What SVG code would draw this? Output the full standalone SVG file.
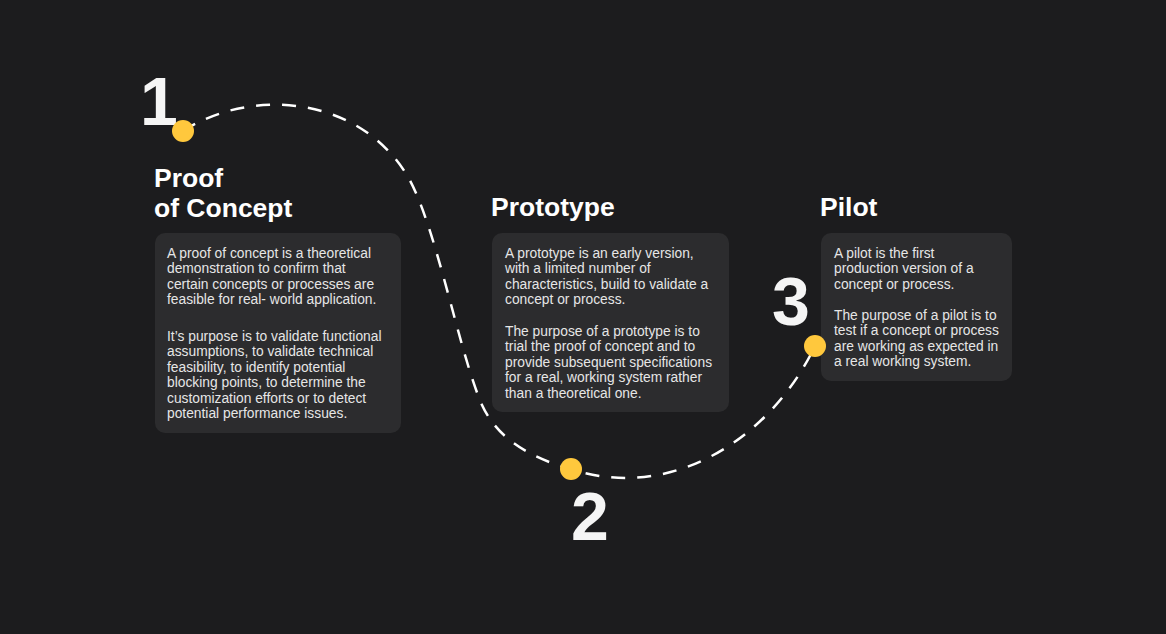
<svg xmlns="http://www.w3.org/2000/svg" width="1166" height="634" viewBox="0 0 1166 634">
<style>
.bg{fill:#1c1c1e}
.card{fill:#2c2c2e}
.title{font-family:"Liberation Sans",Arial,sans-serif;font-weight:bold;font-size:26.5px;fill:#ffffff}
.num{font-family:"Liberation Sans",Arial,sans-serif;font-weight:bold;font-size:68px;fill:#f5f5f5}
.body{font-family:"Liberation Sans",Arial,sans-serif;font-size:13.8px;fill:#e6e6e6}
.dot{fill:#ffc83d}
.path{fill:none;stroke:#ffffff;stroke-width:2.5;stroke-dasharray:14 12}
</style>
<rect class="bg" x="0" y="0" width="1166" height="634"/>
<g id="connectors">
<path class="path" d="M183,131 C250,88 355,95 405,172 C435,218 458,350 482,405 C497,438 530,458 571,469 C670,502 770,440 815,346"/>
</g>
<g id="step1">
<text class="num" x="140" y="125">1</text>
<circle class="dot" cx="183" cy="131" r="11"/>
<text class="title" x="154" y="187">Proof</text>
<text class="title" x="154" y="217">of Concept</text>
<rect class="card" x="155" y="233" width="246" height="200" rx="10"/>
<text class="body" x="167" y="257.5">A proof of concept is a theoretical</text>
<text class="body" x="167" y="273">demonstration to confirm that</text>
<text class="body" x="167" y="288.5">certain concepts or processes are</text>
<text class="body" x="167" y="304">feasible for real- world application.</text>
<text class="body" x="167" y="340.5">It’s purpose is to validate functional</text>
<text class="body" x="167" y="356">assumptions, to validate technical</text>
<text class="body" x="167" y="371.5">feasibility, to identify potential</text>
<text class="body" x="167" y="387">blocking points, to determine the</text>
<text class="body" x="167" y="402.5">customization efforts or to detect</text>
<text class="body" x="167" y="418">potential performance issues.</text>
</g>
<g id="step2">
<text class="title" x="491" y="216">Prototype</text>
<rect class="card" x="492" y="233" width="237" height="179" rx="10"/>
<text class="body" x="505" y="257.5">A prototype is an early version,</text>
<text class="body" x="505" y="273">with a limited number of</text>
<text class="body" x="505" y="288.5">characteristics, build to validate a</text>
<text class="body" x="505" y="304">concept or process.</text>
<text class="body" x="505" y="335.5">The purpose of a prototype is to</text>
<text class="body" x="505" y="351">trial the proof of concept and to</text>
<text class="body" x="505" y="366.5">provide subsequent specifications</text>
<text class="body" x="505" y="382">for a real, working system rather</text>
<text class="body" x="505" y="397.5">than a theoretical one.</text>
<circle class="dot" cx="571" cy="469" r="11"/>
<text class="num" x="571" y="540">2</text>
</g>
<g id="step3">
<text class="title" x="820" y="216">Pilot</text>
<rect class="card" x="821" y="233" width="191" height="148" rx="10"/>
<text class="body" x="834" y="257.5">A pilot is the first</text>
<text class="body" x="834" y="273">production version of a</text>
<text class="body" x="834" y="288.5">concept or process.</text>
<text class="body" x="834" y="319.5">The purpose of a pilot is to</text>
<text class="body" x="834" y="335">test if a concept or process</text>
<text class="body" x="834" y="350.5">are working as expected in</text>
<text class="body" x="834" y="366">a real working system.</text>
<text class="num" x="772" y="325">3</text>
<circle class="dot" cx="815" cy="346" r="11"/>
</g>
</svg>
